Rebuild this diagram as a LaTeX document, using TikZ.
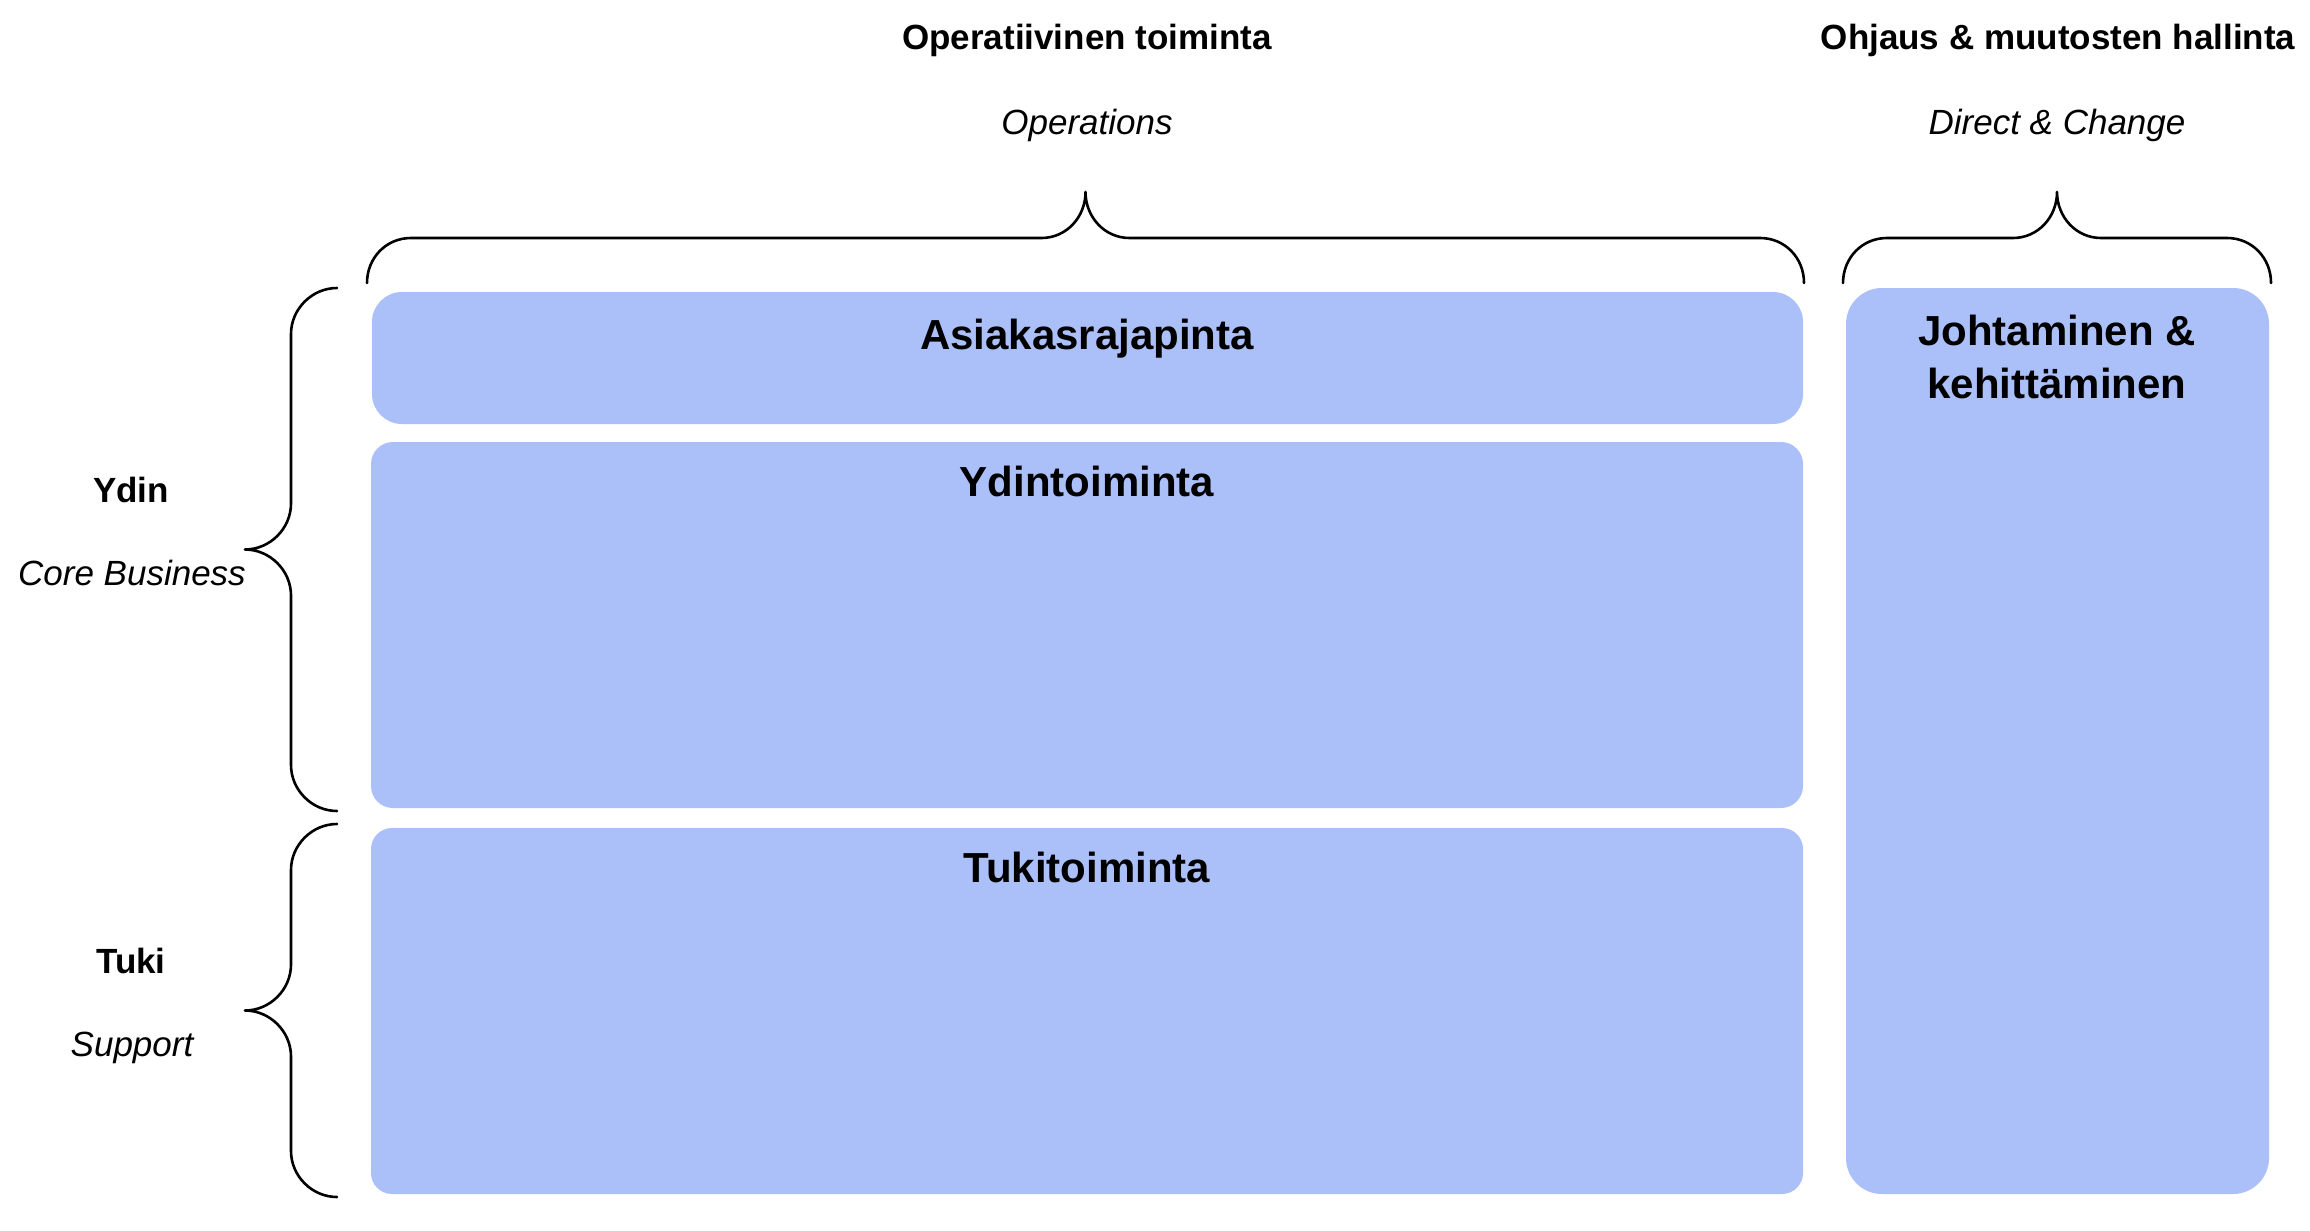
\documentclass[tikz,border=0pt]{standalone}
\usepackage{fontspec}
\setmainfont{Liberation Sans}
\usetikzlibrary{fit, positioning}
\definecolor{boxblue}{RGB}{171,191,249}

\begin{document}
\begin{tikzpicture}[x=0.5pt, y=-0.5pt,
		box/.style={fill=boxblue, draw=none, inner sep=0pt},
		boxtitle/.style={anchor=base, inner sep=0pt, font=\fontsize{21}{26.5}\selectfont\bfseries},
		colhead/.style={anchor=base, inner sep=0pt, font=\fontsize{17.5}{21}\selectfont\bfseries},
		subhead/.style={anchor=base, inner sep=0pt, font=\fontsize{17.5}{21}\selectfont\itshape},
		curly/.style={line width=1.3pt, line cap=round, line join=round}]
		\useasboundingbox (0,0) rectangle (2310,1230);
		
		% column headers
		\node [colhead] (ops) at (1087,50) {Operatiivinen toiminta};
		\node [subhead] (opsEn) at (1087,135) {Operations};
		\node [colhead] (ohjaus) at (2058,50) {Ohjaus \& muutosten hallinta};
		\node [subhead] (ohjausEn) at (2057,135) {Direct \& Change};
		
		% row headers
		\node [colhead] (ydin) at (131,502) {Ydin};
		\node [subhead] (ydinEn) at (132,585) {Core Business};
		\node [colhead] (tuki) at (131,973) {Tuki};
		\node [subhead] (tukiEn) at (132,1056) {Support};
		
		% boxes
		\node [box, rounded corners=15pt, fit={(372,292) (1803,424)}] (asiakas) {};
		\node [box, rounded corners=11pt, fit={(371,442) (1803,808)}] (ydintoim) {};
		\node [box, rounded corners=10.5pt, fit={(371,828) (1803,1194)}] (tukitoim) {};
		\node [box, rounded corners=18pt, fit={(1846,288) (2269,1194)}] (johto) {};
		
		\node [boxtitle] (asiakasT) at (1087,349) {Asiakasrajapinta};
		\node [boxtitle] (ydintoimT) at (1087,496) {Ydintoiminta};
		\node [boxtitle] (tukitoimT) at (1087,882) {Tukitoiminta};
		\node [boxtitle, align=center] (johtoT) at (2057,398) {Johtaminen \&\\kehittäminen};
		
		% braces on top
		\foreach \l/\r in {367/1804, 1843/2271}{
			\pgfmathsetmacro\m{(\l+\r)/2}
			\draw [curly] (\l,283) .. controls +(0,-25) and +(-25,0) .. (\l+44,238) -- (\m-44,238)
				.. controls +(25,0) and +(0,25) .. (\m,192)
				.. controls +(0,25) and +(-25,0) .. (\m+44,238) -- (\r-44,238)
				.. controls +(25,0) and +(0,-25) .. (\r,283);
		}
		% braces on the left
		\foreach \t/\b in {288/811, 824/1197}{
			\pgfmathsetmacro\m{(\t+\b)/2}
			\draw [curly] (337,\t) .. controls +(-25,0) and +(0,-25) .. (291,\t+46) -- (291,\m-46)
				.. controls +(0,25) and +(25,0) .. (245,\m)
				.. controls +(25,0) and +(0,-25) .. (291,\m+46) -- (291,\b-46)
				.. controls +(0,25) and +(-25,0) .. (337,\b);
		}
	\end{tikzpicture}
\end{document}
